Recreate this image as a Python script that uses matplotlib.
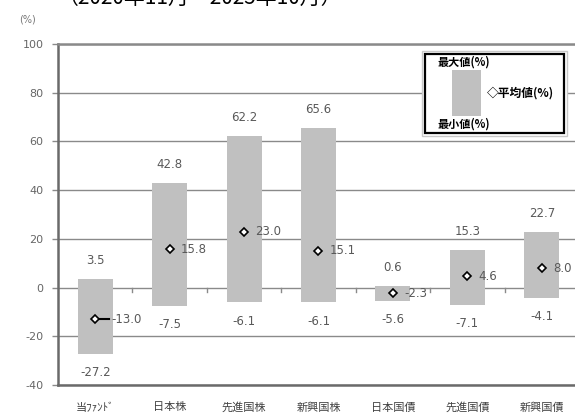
import matplotlib
matplotlib.use("Agg")
import matplotlib.pyplot as plt
from matplotlib.patches import Rectangle

plt.rcParams["font.family"] = ["Noto Sans CJK JP", "DejaVu Sans"]
plt.rcParams["axes.unicode_minus"] = False

categories = ["当ﾌｧﾝﾄﾞ", "日本株", "先進国株", "新興国株", "日本国債", "先進国債", "新興国債"]
max_vals = [3.5, 42.8, 62.2, 65.6, 0.6, 15.3, 22.7]
min_vals = [-27.2, -7.5, -6.1, -6.1, -5.6, -7.1, -4.1]
avg_vals = [-13.0, 15.8, 23.0, 15.1, -2.3, 4.6, 8.0]
y_ticks = [-40, -20, 0, 20, 40, 60, 80, 100]

W, H = 575, 416
fig = plt.figure(figsize=(W / 100, H / 100), dpi=100)
ax = fig.add_axes([58 / W, 1 - 385 / H, 521 / W, 341 / H])

x = range(len(categories))
heights = [hi - lo for hi, lo in zip(max_vals, min_vals)]
ax.bar(x, heights, bottom=min_vals, width=0.47, color="#c0c0c0", zorder=2)
ax.plot(x, avg_vals, linestyle="none", marker="D", markersize=4,
        markerfacecolor="white", markeredgecolor="black", markeredgewidth=1.2, zorder=4)
# leader line on the fund's average label
ax.plot([0, 0.19], [avg_vals[0], avg_vals[0]], color="black", lw=1.5, zorder=3)

lab_col = "#595959"
for i in x:
    ax.annotate(f"{max_vals[i]:.1f}", (i, max_vals[i]), xytext=(0, 13.5),
                textcoords="offset points", ha="center", va="center",
                fontsize=8.5, color=lab_col, family="DejaVu Sans")
    ax.annotate(f"{min_vals[i]:.1f}", (i, min_vals[i]), xytext=(0, -13.5),
                textcoords="offset points", ha="center", va="center",
                fontsize=8.5, color=lab_col, family="DejaVu Sans")
    dx = 11.5 if i == 0 else 8
    ax.annotate(f"{avg_vals[i]:.1f}", (i, avg_vals[i]), xytext=(dx, 0),
                textcoords="offset points", ha="left", va="center",
                fontsize=8.5, color=lab_col, family="DejaVu Sans")

# small ticks on the zero line between categories
for k in range(1, len(categories)):
    ax.plot([k - 0.5, k - 0.5], [0, -1.8], color="#8a8a8a", lw=1.0, zorder=1)

ax.set_xlim(-0.5, len(categories) - 0.5)
ax.set_ylim(-40, 100)
ax.set_yticks(y_ticks)
ax.set_yticklabels([str(v) for v in y_ticks], fontsize=8, color="#666666",
                   family="DejaVu Sans")
ax.set_xticks(list(x))
ax.set_xticklabels(categories, fontsize=8, color="#404040")
ax.tick_params(axis="x", length=0, pad=12.5)
ax.tick_params(axis="y", length=4.5, width=1.0, color="#8a8a8a", pad=6)
ax.grid(axis="y", color="#8a8a8a", lw=1.0, zorder=0)
ax.set_axisbelow(True)

for side in ["left", "bottom"]:
    ax.spines[side].set_color("#6a6a6a")
    ax.spines[side].set_linewidth(1.8)
ax.spines["top"].set_color("#8a8a8a")
ax.spines["top"].set_linewidth(1.8)
ax.spines["right"].set_visible(False)

fig.text(28 / W, 1 - 20 / H, "(%)", fontsize=7, color="#777777",
         ha="center", va="center", family="DejaVu Sans")
# period caption, clipped by the top edge as in the source image
fig.text(58 / W, 1 - 4 / H, "（2020年11月～2025年10月）", fontsize=15,
         color="black", ha="left", va="baseline")

# legend box
def fx(px):
    return px / W

def fy(py):
    return 1 - py / H

fig.patches.append(Rectangle((fx(422), fy(136)), fx(145), 85 / H, transform=fig.transFigure,
                             facecolor="white", edgecolor="#c8c8c8", lw=1.0, zorder=5))
fig.patches.append(Rectangle((fx(425), fy(133)), fx(139), 79 / H, transform=fig.transFigure,
                             facecolor="white", edgecolor="black", lw=1.6, zorder=6))
fig.patches.append(Rectangle((fx(452), fy(116)), fx(29), 46 / H, transform=fig.transFigure,
                             facecolor="#c0c0c0", edgecolor="none", zorder=7))
fig.text(fx(438), fy(62), "最大値(%)", fontsize=8, fontweight="bold",
         ha="left", va="center", zorder=8)
fig.text(fx(438), fy(124), "最小値(%)", fontsize=8, fontweight="bold",
         ha="left", va="center", zorder=8)
fig.text(fx(487), fy(93), "◇平均値(%)", fontsize=8.5, fontweight="bold",
         ha="left", va="center", zorder=8)

fig.savefig("out.png", dpi=100)
